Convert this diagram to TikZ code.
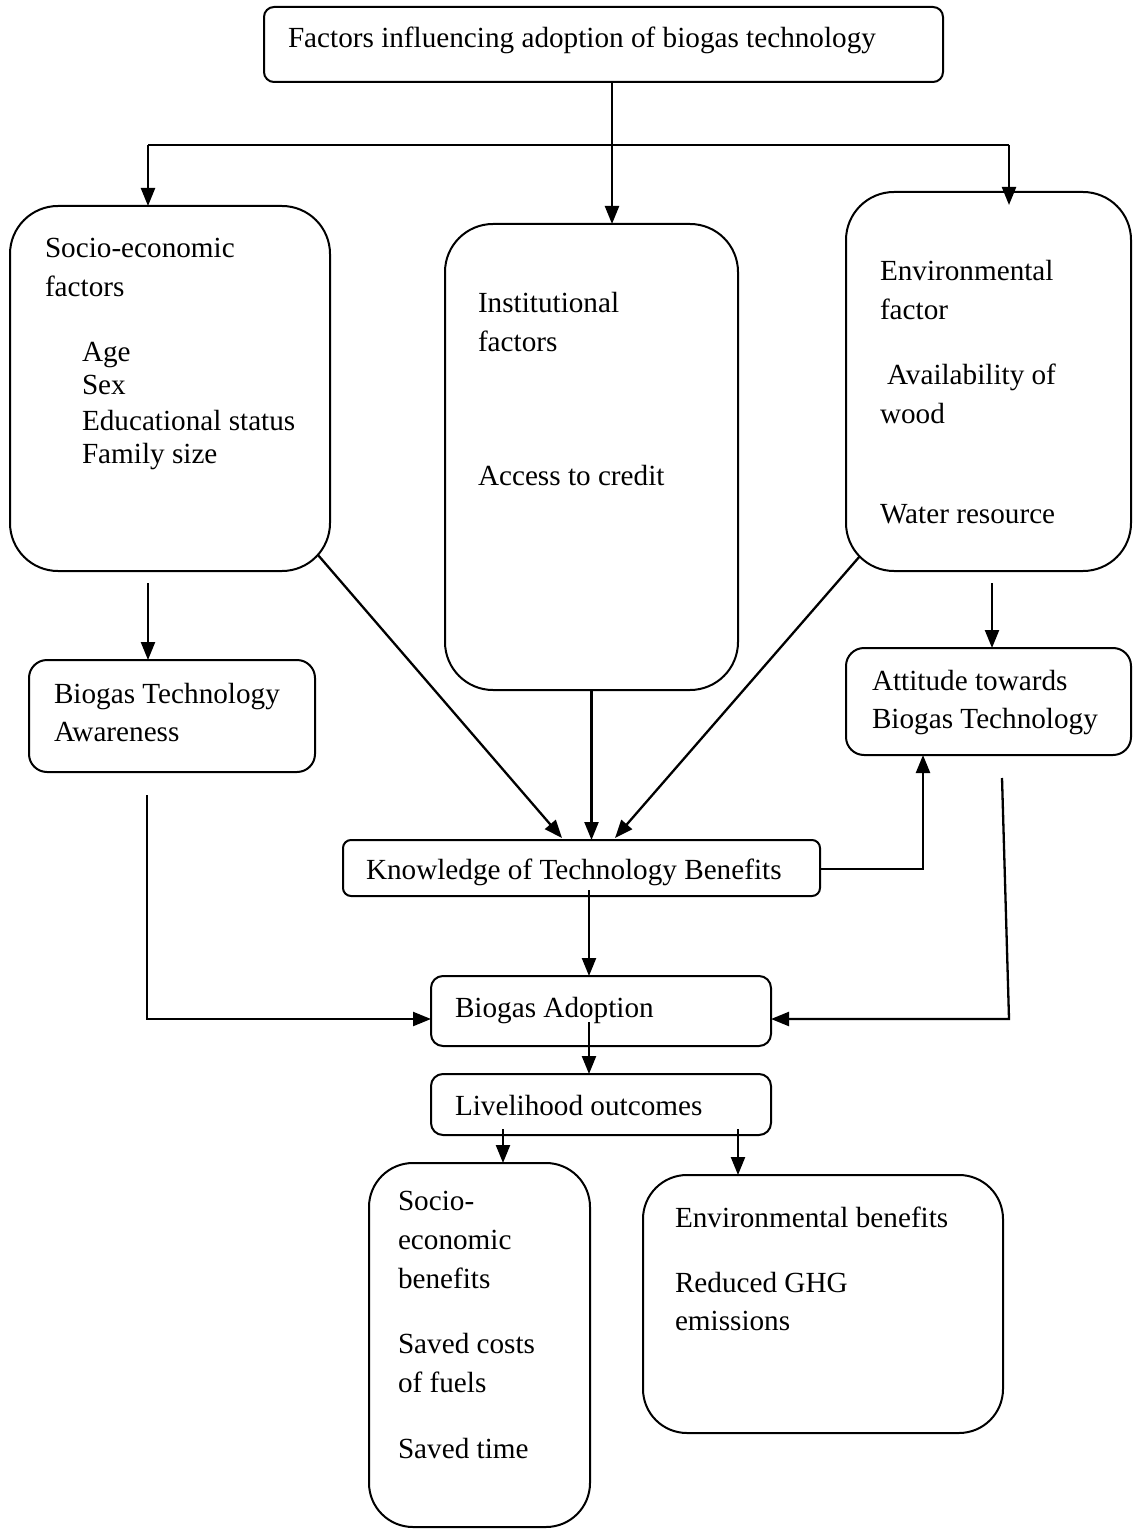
\documentclass[tikz,border=0pt]{standalone}
\usepackage{fontspec}
\setmainfont{Liberation Serif}
\usetikzlibrary{arrows.meta,calc}
\begin{document}
\begin{tikzpicture}[x=0.5pt,y=-0.5pt,
  box/.style={draw, line width=1pt, inner sep=0pt, outer sep=0pt},
  txt/.style={anchor=base west, inner sep=0pt, outer sep=0pt, font=\fontsize{14.6pt}{17pt}\selectfont},
  arr/.style={line width=1.15pt, -{Triangle[length=9pt,width=7pt]}},
  ln/.style={line width=1.15pt}]
\useasboundingbox (0,0) rectangle (1133,1529);

% boxes
\node[box, minimum width=339.5pt, minimum height=37.5pt, rounded corners=5pt] (top) at (603.5,44.5) {};
\node[box, minimum width=160pt, minimum height=182.5pt, rounded corners=24pt] (socio) at (170,388.5) {};
\node[box, minimum width=146.5pt, minimum height=233pt, rounded corners=24pt] (inst) at (591.5,457) {};
\node[box, minimum width=142.5pt, minimum height=189.5pt, rounded corners=24pt] (env) at (988.5,381.5) {};
\node[box, minimum width=143pt, minimum height=56pt, rounded corners=9pt] (aware) at (172,716) {};
\node[box, minimum width=142.5pt, minimum height=53.5pt, rounded corners=9pt] (att) at (988.5,701.5) {};
\node[box, minimum width=238.5pt, minimum height=28pt, rounded corners=4pt] (know) at (581.5,868) {};
\node[box, minimum width=170pt, minimum height=35pt, rounded corners=6pt] (adopt) at (601,1011) {};
\node[box, minimum width=170pt, minimum height=30.5pt, rounded corners=6pt] (live) at (601,1104.5) {};
\node[box, minimum width=110.5pt, minimum height=182pt, rounded corners=22pt] (sben) at (479.5,1345) {};
\node[box, minimum width=180pt, minimum height=129pt, rounded corners=22pt] (eben) at (823,1304) {};

% texts
\node[txt] (ttop) at (288,48) {Factors influencing adoption of biogas technology};
\node[txt] (ts1) at (45,258) {Socio-economic};
\node[txt] (ts2) at (45,297) {factors};
\node[txt] (ts3) at (82,362) {Age};
\node[txt] (ts4) at (82,395) {Sex};
\node[txt] (ts5) at (82,430) {Educational status};
\node[txt] (ts6) at (82,464) {Family size};
\node[txt] (ti1) at (478,313) {Institutional};
\node[txt] (ti2) at (478,352) {factors};
\node[txt] (ti3) at (478,485) {Access to credit};
\node[txt] (te1) at (880,281) {Environmental};
\node[txt] (te2) at (880,320) {factor};
\node[txt] (te3) at (887,385) {Availability of};
\node[txt] (te4) at (880,423) {wood};
\node[txt] (te5) at (880,523) {Water resource};
\node[txt] (ta1) at (54,703) {Biogas Technology};
\node[txt] (ta2) at (54,741) {Awareness};
\node[txt] (tt1) at (872,690) {Attitude towards};
\node[txt] (tt2) at (872,728) {Biogas Technology};
\node[txt] (tk) at (366,879) {Knowledge of Technology Benefits};
\node[txt] (tad) at (455,1017) {Biogas Adoption};
\node[txt] (tl) at (455,1115) {Livelihood outcomes};
\node[txt] (tb1) at (398,1210) {Socio-};
\node[txt] (tb2) at (398,1249) {economic};
\node[txt] (tb3) at (398,1288) {benefits};
\node[txt] (tb4) at (398,1353) {Saved costs};
\node[txt] (tb5) at (398,1392) {of fuels};
\node[txt] (tb6) at (398,1458) {Saved time};
\node[txt] (tn1) at (675,1227) {Environmental benefits};
\node[txt] (tn2) at (675,1292) {Reduced GHG};
\node[txt] (tn3) at (675,1330) {emissions};

% coordinates
\coordinate (vT) at (612,82);
\coordinate (hL) at (148,145);
\coordinate (hR) at (1009,145);
\coordinate (eTip) at (1009,205);
\coordinate (sA) at (148,583);
\coordinate (eA) at (992,583);
\coordinate (sD) at (318,555);
\coordinate (kL) at (562,838);
\coordinate (eD) at (860,556);
\coordinate (kR) at (615,838);
\coordinate (kE) at (923,869);
\coordinate (kB) at (589,890);
\coordinate (aw0) at (147,795);
\coordinate (aw1) at (147,1019);
\coordinate (at0) at (1002,778);
\coordinate (at1) at (1009,1019);
\coordinate (ad0) at (589,1022);
\coordinate (l1) at (503,1129);
\coordinate (l2) at (738,1129);

% connectors
\draw[arr] (vT |- top.south) -- (vT |- inst.north);
\draw[ln] (hL) -- (hR);
\draw[arr] (hL) -- (hL |- socio.north);
\draw[arr] (hR) -- (eTip);
\draw[arr] (sA) -- (sA |- aware.north);
\draw[arr] (eA) -- (eA |- att.north);
\draw[arr] (sD) -- (kL);
\draw[arr] (inst.south) -- (inst.south |- know.north);
\draw[arr] (eD) -- (kR);
\draw[arr] (know.east |- kE) -- (kE) -- (kE |- att.south);
\draw[arr] (kB) -- (kB |- adopt.north);
\draw[arr] (aw0) -- (aw1) -- (aw1 -| adopt.west);
\draw[arr] (at0) -- (at1) -- (at1 -| adopt.east);
\draw[arr] (ad0) -- (ad0 |- live.north);
\draw[arr] (l1) -- (l1 |- sben.north);
\draw[arr] (l2) -- (l2 |- eben.north);
\end{tikzpicture}
\end{document}
